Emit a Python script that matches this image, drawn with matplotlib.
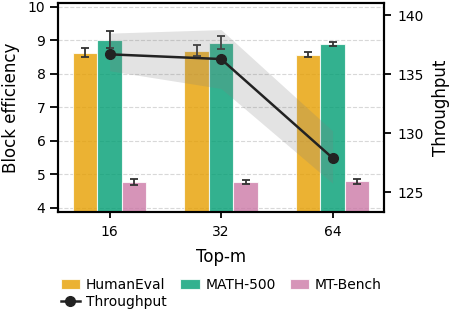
import matplotlib
matplotlib.use("Agg")
import matplotlib.pyplot as plt
import numpy as np

top_m = ["16", "32", "64"]
benchmarks = ["HumanEval", "MATH-500", "MT-Bench"]
colors = ["#E69F00", "#009E73", "#CC79A7"]

# block efficiency (mean, err) per benchmark
eff = {
    "HumanEval": [8.63, 8.69, 8.57],
    "MATH-500": [9.02, 8.93, 8.89],
    "MT-Bench": [4.77, 4.77, 4.79],
}
eff_err = {
    "HumanEval": [0.13, 0.17, 0.08],
    "MATH-500": [0.25, 0.19, 0.06],
    "MT-Bench": [0.08, 0.05, 0.07],
}

throughput = [136.7, 136.3, 127.9]
tp_low = [135.3, 133.8, 125.75]
tp_high = [138.5, 138.8, 130.2]

plt.rcParams["font.family"] = "DejaVu Sans"

fig, ax = plt.subplots(figsize=(4.53, 3.11), dpi=100)
fig.subplots_adjust(left=0.128, right=0.848, top=0.99, bottom=0.318)

x = np.arange(len(top_m))
w = 0.22
for i, (name, c) in enumerate(zip(benchmarks, colors)):
    ax.bar(x + (i - 1) * w, eff[name], w, yerr=eff_err[name], color=c, alpha=0.8,
           edgecolor="white", linewidth=0.8, capsize=3,
           error_kw=dict(ecolor="#333333", elinewidth=1.3, capthick=1.3),
           label=name)

ax.set_ylim(3.87, 10.11)
ax.set_xticks(x)
ax.set_xticklabels(top_m)
ax.set_xlabel("Top-m", fontsize=12, labelpad=6)
ax.set_ylabel("Block efficiency", fontsize=12, labelpad=6)
ax.tick_params(axis="y", labelsize=10, width=1.3, length=5.5, pad=3.5)
ax.tick_params(axis="x", labelsize=10, width=1.3, length=4.5, pad=5)
ax.yaxis.grid(True, linestyle="--", color="#d8d8d8", linewidth=0.8)
ax.set_axisbelow(True)
for s in ax.spines.values():
    s.set_linewidth(1.5)

ax2 = ax.twinx()
ax2.fill_between(x, tp_low, tp_high, color="gray", alpha=0.22, linewidth=0)
ax2.plot(x, throughput, "-o", color="#222222", linewidth=1.8, markersize=7,
         label="Throughput")
ax2.set_ylim(123.3, 141.05)
ax2.set_yticks([125, 130, 135, 140])
ax2.set_ylabel("Throughput", fontsize=12, labelpad=6)
ax2.tick_params(labelsize=10, width=1.3, length=5, pad=4.5)
for s in ax2.spines.values():
    s.set_linewidth(1.5)

h, l = ax.get_legend_handles_labels()
h2, l2 = ax2.get_legend_handles_labels()
# column-wise fill: put Throughput second so it lands under HumanEval
handles = [h[0], h2[0], h[1], h[2]]
labels = [l[0], l2[0], l[1], l[2]]
ax.legend(handles, labels, loc="upper center", bbox_to_anchor=(0.5, -0.255),
          ncol=3, frameon=False, fontsize=10, handlelength=1.4,
          handletextpad=0.4, columnspacing=1.0, labelspacing=0.2)

fig.savefig("out.png", dpi=100)
